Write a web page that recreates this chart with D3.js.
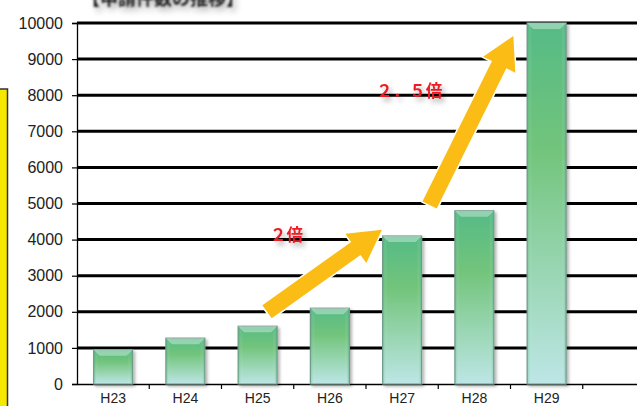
<!DOCTYPE html>
<html>
<head>
<meta charset="utf-8">
<script src="https://cdn.jsdelivr.net/npm/d3@7"></script>
<style>
  body { margin: 0; background: #fff; }
  svg { display: block; }
</style>
</head>
<body>
<svg id="chart" width="637" height="406"></svg>
<script>
// data
var years = ["H23", "H24", "H25", "H26", "H27", "H28", "H29", ""];
var counts = [950, 1270, 1600, 2100, 4100, 4800, 10000];
var yTicks = [0, 1000, 2000, 3000, 4000, 5000, 6000, 7000, 8000, 9000, 10000];
// arrows: [category, offset in steps, value] -> [category, offset, value]
var arrowFrom = [["H25", 0.13, 2000], ["H27", 0.38, 4960]];
var arrowTo   = [["H27", -0.28, 4270], ["H29", -0.46, 9640]];
var notes = ["２倍", "２．５倍"];
var notePos = [["H25", 0.4, 3950], ["H27", 0.1, 7950]];

var svg = d3.select("#chart"),
    plotLeft = 77, plotRight = 655, plotTop = 23, plotBottom = 384;

var x = d3.scaleBand().domain(years).range([plotLeft, plotRight]).padding(0.46).paddingOuter(0.23);
var y = d3.scaleLinear().domain([0, 10000]).range([plotBottom, plotTop]);

function px(cat, off) { return x(cat) + x.bandwidth() / 2 + off * x.step(); }

var defs = svg.append("defs");
var grad = defs.append("linearGradient").attr("id", "barFill")
  .attr("x1", 0).attr("y1", 0).attr("x2", 0).attr("y2", 1);
grad.append("stop").attr("offset", "0%").attr("stop-color", "#55bb86");
grad.append("stop").attr("offset", "35%").attr("stop-color", "#72c47b");
grad.append("stop").attr("offset", "100%").attr("stop-color", "#bde6e6");

var side = defs.append("linearGradient").attr("id", "sideFill")
  .attr("x1", 0).attr("y1", 0).attr("x2", 1).attr("y2", 0);
side.append("stop").attr("offset", "0%").attr("stop-color", "#2e9a62").attr("stop-opacity", 0.35);
side.append("stop").attr("offset", "12%").attr("stop-color", "#ffffff").attr("stop-opacity", 0);
side.append("stop").attr("offset", "88%").attr("stop-color", "#ffffff").attr("stop-opacity", 0);
side.append("stop").attr("offset", "100%").attr("stop-color", "#2e9a62").attr("stop-opacity", 0.35);

var shadow = defs.append("filter").attr("id", "shadow")
  .attr("x", "-20%").attr("y", "-20%").attr("width", "150%").attr("height", "150%");
shadow.append("feDropShadow").attr("dx", 2).attr("dy", 2).attr("stdDeviation", 1.5)
  .attr("flood-color", "#000").attr("flood-opacity", 0.3);

var txtShadow = defs.append("filter").attr("id", "txtShadow")
  .attr("x", "-20%").attr("y", "-50%").attr("width", "150%").attr("height", "250%");
txtShadow.append("feDropShadow").attr("dx", 3).attr("dy", 4).attr("stdDeviation", 2.5)
  .attr("flood-color", "#000").attr("flood-opacity", 0.3);

var titleBlur = defs.append("filter").attr("id", "titleBlur")
  .attr("x", "-10%").attr("y", "-50%").attr("width", "130%").attr("height", "250%");
titleBlur.append("feGaussianBlur").attr("in", "SourceGraphic").attr("stdDeviation", 0.9).attr("result", "b");
titleBlur.append("feDropShadow").attr("in", "b").attr("dx", 3).attr("dy", 4).attr("stdDeviation", 3)
  .attr("flood-color", "#000").attr("flood-opacity", 0.35);

// title, cut off at top
svg.append("text")
  .attr("x", 82).attr("y", 5)
  .attr("font-family", "Noto Sans CJK JP")
  .attr("font-weight", "bold")
  .attr("font-size", "18px")
  .attr("fill", "#222")
  .attr("filter", "url(#titleBlur)")
  .text("【申請件数の推移】");

// yellow box on the left
svg.append("rect")
  .attr("x", -20).attr("y", 89).attr("width", 27.5).attr("height", 340)
  .attr("fill", "#f6e800").attr("stroke", "#333").attr("stroke-width", 1.5);

// grid
svg.append("g").selectAll("line")
  .data(yTicks.filter(function(d) { return d > 0; }))
  .enter().append("line")
  .attr("x1", plotLeft).attr("x2", 637)
  .attr("y1", function(d) { return y(d); })
  .attr("y2", function(d) { return y(d); })
  .attr("stroke", "#000").attr("stroke-width", 3);

// axes
var yAxis = svg.append("g")
  .attr("transform", "translate(" + plotLeft + ",0)")
  .call(d3.axisLeft(y).tickValues(yTicks).tickFormat(d3.format("d")).tickSize(5).tickPadding(9));
var xAxis = svg.append("g")
  .attr("transform", "translate(0," + plotBottom + ")")
  .call(d3.axisBottom(x).tickSize(0).tickPadding(9));

xAxis.selectAll(".tick").append("line")
  .attr("class", "sep")
  .attr("x1", x.step() / 2).attr("x2", x.step() / 2)
  .attr("y1", 0).attr("y2", 5);

[yAxis, xAxis].forEach(function(a) {
  a.select(".domain").attr("stroke", "#000").attr("stroke-width", 1.3);
  a.selectAll(".tick line").attr("stroke", "#000").attr("stroke-width", 1.2);
  a.selectAll("text")
   .attr("font-family", "Liberation Sans, Arial, sans-serif")
   .attr("fill", "#222");
});
yAxis.selectAll("text").attr("font-size", "16px");
xAxis.selectAll("text").attr("font-size", "14px");

// bars
var bars = svg.append("g").selectAll("g")
  .data(counts)
  .enter().append("g");

bars.append("rect")
  .attr("x", function(d, i) { return x(years[i]); })
  .attr("y", function(d) { return y(d); })
  .attr("width", x.bandwidth())
  .attr("height", function(d) { return plotBottom - y(d); })
  .attr("fill", "url(#barFill)")
  .attr("stroke", "#7c9c90")
  .attr("stroke-width", 1.2)
  .attr("filter", "url(#shadow)");

bars.append("rect")
  .attr("x", function(d, i) { return x(years[i]); })
  .attr("y", function(d) { return y(d); })
  .attr("width", x.bandwidth())
  .attr("height", function(d) { return plotBottom - y(d); })
  .attr("fill", "url(#sideFill)");

// top bevel
bars.append("path")
  .attr("d", function(d, i) {
    var x0 = x(years[i]), x1 = x0 + x.bandwidth(), t = y(d), b = 6;
    return "M" + x0 + "," + t + "L" + x1 + "," + t +
           "L" + (x1 - b) + "," + (t + b) + "L" + (x0 + b) + "," + (t + b) + "Z";
  })
  .attr("fill", "#ffffff").attr("fill-opacity", 0.35);

// arrows
function arrowPath(a, b) {
  var x0 = px(a[0], a[1]), y0 = y(a[2]), x1 = px(b[0], b[1]), y1 = y(b[2]);
  var dx = x1 - x0, dy = y1 - y0, len = Math.sqrt(dx * dx + dy * dy);
  var ux = dx / len, uy = dy / len, nx = -uy, ny = ux;
  var sw = 8, hw = 18, hl = 32;
  var bx = x1 - ux * hl, by = y1 - uy * hl;
  var pts = [
    [x0 + nx * sw, y0 + ny * sw],
    [bx + nx * sw, by + ny * sw],
    [bx + nx * hw, by + ny * hw],
    [x1, y1],
    [bx - nx * hw, by - ny * hw],
    [bx - nx * sw, by - ny * sw],
    [x0 - nx * sw, y0 - ny * sw]
  ];
  return "M" + pts.join("L") + "Z";
}

svg.append("g").selectAll("path")
  .data(arrowFrom)
  .enter().append("path")
  .attr("d", function(d, i) { return arrowPath(d, arrowTo[i]); })
  .attr("fill", "#fbbd15")
  .attr("stroke", "#fff")
  .attr("stroke-width", 3)
  .attr("stroke-linejoin", "round")
  .attr("paint-order", "stroke");

// notes
svg.append("g").selectAll("text")
  .data(notes)
  .enter().append("text")
  .attr("x", function(d, i) { return px(notePos[i][0], notePos[i][1]); })
  .attr("y", function(d, i) { return y(notePos[i][2]); })
  .attr("text-anchor", "middle")
  .attr("font-family", "Noto Sans CJK JP")
  .attr("font-weight", "bold")
  .attr("font-size", "16.5px")
  .attr("fill", "#ec1c24")
  .attr("filter", "url(#txtShadow)")
  .text(function(d) { return d; });
</script>
</body>
</html>
